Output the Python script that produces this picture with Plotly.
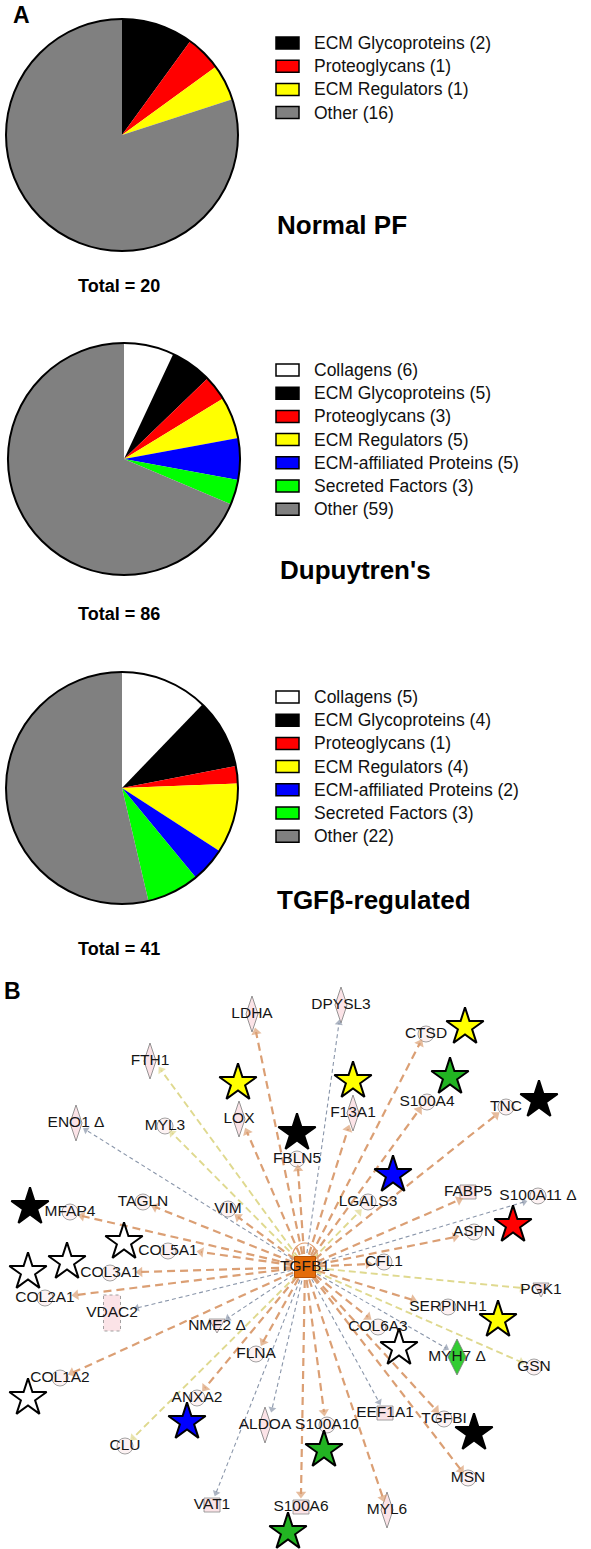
import plotly.graph_objects as go

W, H = 591, 1549
FONT = "Liberation Sans, Arial, sans-serif"

# ---------------- Panel A data ----------------
categories = ["Collagens", "ECM Glycoproteins", "Proteoglycans", "ECM Regulators",
              "ECM-affiliated Proteins", "Secreted Factors", "Other"]
cat_colors = ["#FFFFFF", "#000000", "#FF0000", "#FFFF00", "#0000FF", "#00FF00", "#808080"]
normal_pf = [0, 2, 1, 1, 0, 0, 16]
dupuytren = [6, 5, 3, 5, 5, 3, 59]
tgfb_regulated = [5, 4, 1, 4, 2, 3, 22]
pie_titles = ["Normal PF", "Dupuytren's", "TGFβ-regulated"]

# ---------------- Panel B data (network) ----------------
hub_name = "TGFB1"
genes = ["LDHA", "DPYSL3", "FTH1", "LOX", "ENO1 Δ", "MYL3", "FBLN5", "F13A1", "CTSD", "S100A4",
         "TNC", "LGALS3", "FABP5", "S100A11 Δ", "ASPN", "CFL1", "PGK1", "SERPINH1", "GSN", "MYH7 Δ",
         "COL6A3", "TGFBI", "MSN", "EEF1A1", "MYL6", "S100A10", "S100A6", "ALDOA", "VAT1", "CLU",
         "ANXA2", "FLNA", "NME2 Δ", "COL1A2", "VDAC2", "COL2A1", "COL3A1", "COL5A1", "MFAP4", "TAGLN",
         "VIM"]
node_x = [252, 341, 150, 239, 76, 165, 297, 353, 426, 427,
          506, 368, 468, 538, 474, 384, 541, 448, 534, 457,
          378, 444, 468, 385, 387, 327, 301, 265, 212, 125,
          197, 256, 217, 60, 112, 45, 110, 168, 70, 143,
          228]
node_y = [1014, 1005, 1061, 1119, 1123, 1126, 1159, 1113, 1034, 1102,
          1107, 1202, 1192, 1196, 1232, 1262, 1290, 1307, 1367, 1357,
          1327, 1419, 1478, 1413, 1510, 1425, 1507, 1425, 1505, 1446,
          1398, 1354, 1326, 1378, 1313, 1298, 1273, 1251, 1212, 1202,
          1209]
node_type = ["enzyme", "enzyme", "enzyme", "enzyme", "enzyme", "other", "other", "enzyme", "other", "other",
             "other", "other", "transporter", "other", "other", "other", "kinase", "other", "other", "enzyme_up",
             "other", "other", "other", "translation", "enzyme", "other", "transporter", "enzyme", "transporter", "other",
             "other", "other", "kinase", "other", "channel", "other", "other", "other", "other", "other",
             "other"]
edge_kind = ["o", "g", "y", "o", "g", "y", "o", "o", "o", "o",
             "o", "y", "o", "g", "o", "o", "y", "o", "y", "g",
             "o", "o", "o", "g", "o", "o", "o", "g", "g", "y",
             "o", "o", "g", "o", "g", "o", "o", "o", "o", "o",
             "o"]
edge_end_x = [256, 339, 161, 247, 86, 172, 298, 348, 420, 419,
              496, 359, 459, 524, 455, 368, 522, 413, 521, 446,
              368, 436, 461, 379, 383, 324, 301, 272, 216, 133,
              205, 263, 228, 72, 137, 76, 140, 201, 82, 155,
              238]
edge_end_y = [1032, 1023, 1070, 1132, 1130, 1133, 1169, 1129, 1043, 1110,
              1115, 1212, 1200, 1202, 1237, 1264, 1288, 1300, 1362, 1348,
              1317, 1410, 1470, 1402, 1498, 1412, 1494, 1409, 1493, 1438,
              1388, 1342, 1318, 1373, 1308, 1295, 1272, 1252, 1216, 1207,
              1217]
# matrisome category of each gene (index into categories; None = not a matrisome star)
star_cat = [None, None, None, 3, None, None, 1, 3, 3, 5,
            1, 4, None, None, 2, None, None, 3, None, None,
            0, 1, None, None, None, 5, 5, None, None, None,
            4, None, None, 0, None, 0, 0, 0, 1, None,
            None]
star_x = [None, None, None, 238, None, None, 297, 353, 465, 450,
          539, 393, None, None, 513, None, None, 498, None, None,
          399, 474, None, None, None, 324, 288, None, None, None,
          187, None, None, 28, None, 28, 67, 124, 30, None,
          None]
star_y = [None, None, None, 1083, None, None, 1133, 1081, 1027, 1077,
          1100, 1175, None, None, 1225, None, None, 1320, None, None,
          1348, 1433, None, None, None, 1450, 1532, None, None, None,
          1422, None, None, 1398, None, 1272, 1262, 1242, 1207, None,
          None]
star_colors = ["#FFFFFF", "#000000", "#FF0000", "#FFFF00", "#0000FF", "#22B422", "#808080"]

HUB = (305, 1267)

fig = go.Figure()

# ---------------- Pies ----------------
pie_centers = [(122, 135), (124, 459), (122, 788)]
D = 232
legend_top = [43, 370, 697]
title_pos = [(275, 225), (278, 570), (275, 900)]
total_y = [286, 614, 949]
for k, vals in enumerate([normal_pf, dupuytren, tgfb_regulated]):
    cx, cy = pie_centers[k]
    dom = dict(x=[(cx - D / 2) / W, (cx + D / 2) / W],
               y=[1 - (cy + D / 2) / H, 1 - (cy - D / 2) / H])
    fig.add_trace(go.Pie(values=vals, labels=categories, sort=False, direction="clockwise",
                         rotation=0, textinfo="none", domain=dom, showlegend=False,
                         marker=dict(colors=cat_colors, line=dict(width=0)),
                         hoverinfo="label+value"))
    fig.add_trace(go.Pie(values=[sum(vals)], labels=["Total %d" % k], sort=False,
                         textinfo="none", domain=dom, showlegend=False,
                         marker=dict(colors=["rgba(0,0,0,0)"], line=dict(color="black", width=2)),
                         hoverinfo="skip"))
    row = 0
    for i, v in enumerate(vals):
        if v == 0:
            continue
        yy = legend_top[k] + row * 23.2
        fig.add_shape(type="rect", xref="x", yref="y", x0=276, x1=299, y0=yy - 6, y1=yy + 6,
                      fillcolor=cat_colors[i], line=dict(color="black", width=1.5), layer="above")
        fig.add_annotation(x=312, y=yy, xref="x", yref="y", text=f"{categories[i]} ({v})",
                           xanchor="left", yanchor="middle", showarrow=False,
                           font=dict(family=FONT, size=17.5, color="#111"))
        row += 1
    tx, ty = title_pos[k]
    fig.add_annotation(x=tx, y=ty, xref="x", yref="y", text=f"<b>{pie_titles[k]}</b>",
                       xanchor="left", yanchor="middle", showarrow=False,
                       font=dict(family=FONT, size=26, color="black"))
    fig.add_annotation(x=119, y=total_y[k], xref="x", yref="y", text=f"<b>Total = {sum(vals)}</b>",
                       xanchor="center", yanchor="middle", showarrow=False,
                       font=dict(family=FONT, size=18, color="black"))

fig.add_annotation(x=21, y=15, xref="x", yref="y", text="<b>A</b>", showarrow=False,
                   font=dict(family=FONT, size=23, color="black"))
fig.add_annotation(x=12, y=991, xref="x", yref="y", text="<b>B</b>", showarrow=False,
                   font=dict(family=FONT, size=23, color="black"))

# ---------------- Network node shapes ----------------
PINK = "#FBE3E7"
OUTL = "#8C8C8C"
for nx, ny, t in zip(node_x, node_y, node_type):
    if t in ("enzyme", "enzyme_up"):
        hw = 9 if t == "enzyme_up" else 6
        fill = "#33CC33" if t == "enzyme_up" else PINK
        fig.add_shape(type="path", xref="x", yref="y", layer="below",
                      path=f"M{nx},{ny-18} L{nx+hw},{ny} L{nx},{ny+18} L{nx-hw},{ny} Z",
                      fillcolor=fill, line=dict(color="#7a7a7a", width=0.8))
    elif t == "other":
        fig.add_shape(type="circle", xref="x", yref="y", layer="below",
                      x0=nx - 8, x1=nx + 8, y0=ny - 8, y1=ny + 8,
                      fillcolor="#FDF2F3", line=dict(color=OUTL, width=0.8))
    elif t in ("transporter", "translation"):
        fig.add_shape(type="rect", xref="x", yref="y", layer="below",
                      x0=nx - 8, x1=nx + 8, y0=ny - 7, y1=ny + 7,
                      fillcolor=PINK, line=dict(color=OUTL, width=0.8))
    elif t == "kinase":
        fig.add_shape(type="path", xref="x", yref="y", layer="below",
                      path=f"M{nx-8},{ny-7} L{nx+8},{ny-7} L{nx},{ny+7} Z",
                      fillcolor=PINK, line=dict(color=OUTL, width=0.8))
    elif t == "channel":
        fig.add_shape(type="rect", xref="x", yref="y", layer="below",
                      x0=nx - 8.5, x1=nx + 8.5, y0=ny - 18, y1=ny + 18,
                      fillcolor=PINK, line=dict(color=OUTL, width=0.8, dash="dot"))

# self-regulation arc on the hub
fig.add_shape(type="path", xref="x", yref="y", layer="below",
              path=f"M{HUB[0]-13},{HUB[1]-6} C{HUB[0]-14},{HUB[1]-30} {HUB[0]+14},{HUB[1]-30} {HUB[0]+13},{HUB[1]-6}",
              line=dict(color="#E09A6A", width=1.2))

# ---------------- Edges ----------------
edge_style = {"o": ("#DB9F74", 2.2, "8px,5px", 9),
              "y": ("#DFD98F", 1.9, "7px,4px", 8),
              "g": ("#8A96AA", 1.1, "4px,3px", 7)}
for ex, ey, kind in zip(edge_end_x, edge_end_y, edge_kind):
    col, wd, dash, ms = edge_style[kind]
    fig.add_trace(go.Scatter(x=[HUB[0], ex], y=[HUB[1], ey], mode="lines+markers",
                             line=dict(color=col, width=wd, dash=dash),
                             marker=dict(symbol="triangle-up", size=[0, ms], color=col,
                                         angleref="previous", line=dict(width=0)),
                             hoverinfo="skip", showlegend=False))

# hub node
fig.add_trace(go.Scatter(x=[HUB[0]], y=[HUB[1]], mode="markers",
                         marker=dict(symbol="square", size=21, color="#E46C0A",
                                     line=dict(color="#B85207", width=1)),
                         hoverinfo="skip", showlegend=False))

# matrisome stars
for c in range(len(star_colors)):
    xs = [sx for sx, sc in zip(star_x, star_cat) if sc == c]
    ys = [sy for sy, sc in zip(star_y, star_cat) if sc == c]
    if not xs:
        continue
    fig.add_trace(go.Scatter(x=xs, y=ys, mode="markers",
                             marker=dict(symbol="star", size=28, color=star_colors[c],
                                         line=dict(color="black", width=2)),
                             name=categories[c], hoverinfo="name", showlegend=False))

# labels
fig.add_trace(go.Scatter(x=node_x + [HUB[0]], y=node_y + [HUB[1]], mode="text",
                         text=genes + [hub_name], textposition="middle center",
                         textfont=dict(family=FONT, size=15.5, color="#151515"),
                         hoverinfo="skip", showlegend=False))

fig.update_layout(
    width=W, height=H, margin=dict(l=0, r=0, t=0, b=0),
    paper_bgcolor="white", plot_bgcolor="white", showlegend=False,
    xaxis=dict(range=[0, W], visible=False, domain=[0, 1], fixedrange=True),
    yaxis=dict(range=[H, 0], visible=False, domain=[0, 1], fixedrange=True),
)

fig.write_html("out.html")
